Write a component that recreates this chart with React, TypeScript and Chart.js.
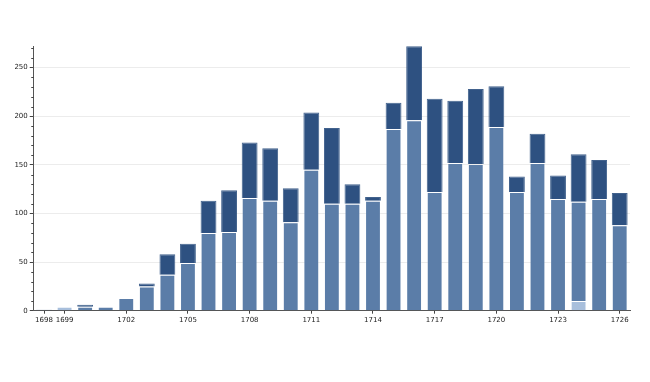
import React, { useEffect, useRef } from "react";
import { Chart, registerables } from "chart.js";

Chart.register(...registerables);

const years: string[] = [
  "1698", "1699", "1700", "1701", "1702", "1703", "1704", "1705", "1706", "1707",
  "1708", "1709", "1710", "1711", "1712", "1713", "1714", "1715", "1716", "1717",
  "1718", "1719", "1720", "1721", "1722", "1723", "1724", "1725", "1726",
];

const lightValues: number[] = [
  0, 4, 0, 0, 0, 0, 0, 0, 0, 0,
  0, 0, 0, 0, 0, 0, 0, 0, 0, 0,
  0, 0, 0, 0, 0, 0, 10, 0, 0,
];

const midValues: number[] = [
  0, 0, 4, 4, 13, 25, 37, 49, 80, 81,
  116, 113, 91, 145, 110, 110, 113, 187, 196, 122,
  152, 151, 189, 122, 152, 115, 102, 115, 88,
];

const darkValues: number[] = [
  1, 0, 2, 0, 0, 3, 21, 20, 33, 43,
  57, 54, 35, 59, 78, 20, 4, 27, 76, 96,
  64, 77, 42, 16, 30, 24, 49, 40, 33,
];

const yTickValues: number[] = [0, 50, 100, 150, 200, 250];

const FONT = { family: "DejaVu Sans", size: 7 };

const minorTicks = {
  id: "minorTicks",
  afterDraw(chart: any) {
    const y = chart.scales.y;
    const ctx = chart.ctx;
    const left = chart.chartArea.left;
    ctx.save();
    ctx.strokeStyle = "#444";
    ctx.lineWidth = 1;
    for (let v = 10; v <= 270; v += 10) {
      if (v % 50 === 0) continue;
      const py = Math.round(y.getPixelForValue(v)) + 0.5;
      ctx.beginPath();
      ctx.moveTo(left - 2.5, py);
      ctx.lineTo(left, py);
      ctx.stroke();
    }
    ctx.restore();
  },
};

function showLabel(index: number): boolean {
  const yr = parseInt(years[index], 10);
  return index === 0 || (yr - 1699) % 3 === 0;
}

export default function App() {
  const ref = useRef<HTMLCanvasElement | null>(null);

  useEffect(() => {
    if (!ref.current) return;
    const border = "rgba(255,255,255,0.2)";
    const chart = new Chart(ref.current, {
      type: "bar",
      data: {
        labels: years,
        datasets: [
          {
            label: "light",
            data: lightValues,
            backgroundColor: "#a8bfdc",
            borderColor: border,
            borderWidth: 1,
            stack: "s",
          },
          {
            label: "mid",
            data: midValues,
            backgroundColor: "#5b7da8",
            borderColor: border,
            borderWidth: 1,
            stack: "s",
          },
          {
            label: "dark",
            data: darkValues,
            backgroundColor: "#2e5181",
            borderColor: "rgba(46,81,129,0.9)",
            borderWidth: 1,
            stack: "s",
          },
        ],
      },
      options: {
        animation: false,
        responsive: false,
        devicePixelRatio: 1,
        layout: { padding: { left: 0, top: 46, right: 20, bottom: 0 } },
        plugins: {
          legend: { display: false },
          tooltip: { enabled: false },
        },
        datasets: {
          bar: { categoryPercentage: 1, barPercentage: 0.77 },
        },
        scales: {
          x: {
            type: "category",
            stacked: true,
            offset: true,
            afterFit(scale: any) {
              scale.height = 71.3;
            },
            grid: {
              offset: false,
              drawOnChartArea: false,
              drawTicks: true,
              tickLength: 3,
              tickColor: (ctx: any) => (showLabel(ctx.index) ? "#444" : "rgba(0,0,0,0)"),
            },
            border: { display: true, color: "#555", width: 1 },
            ticks: {
              autoSkip: false,
              maxRotation: 0,
              minRotation: 0,
              padding: 2,
              color: "#222",
              font: FONT,
              callback: (_v: any, index: number) => (showLabel(index) ? years[index] : ""),
            },
          },
          y: {
            stacked: true,
            min: 0,
            max: 272.3,
            afterFit(scale: any) {
              scale.width = 33.75;
            },
            afterBuildTicks(scale: any) {
              scale.ticks = yTickValues.map((v) => ({ value: v }));
            },
            grid: {
              color: (ctx: any) =>
                ctx.tick && ctx.tick.value > 0 ? "#ececec" : "rgba(0,0,0,0)",
              drawTicks: true,
              tickLength: 4,
              tickColor: "#444",
            },
            border: { display: true, color: "#555", width: 1 },
            ticks: {
              padding: 2,
              color: "#222",
              font: FONT,
            },
          },
        },
      },
      plugins: [minorTicks],
    } as any);
    return () => chart.destroy();
  }, []);

  return (
    <div style={{ position: "fixed", left: 0, top: 0, width: 650, height: 382, background: "#fff" }}>
      <canvas ref={ref} width={650} height={382} style={{ display: "block", width: 650, height: 382 }} />
    </div>
  );
}
